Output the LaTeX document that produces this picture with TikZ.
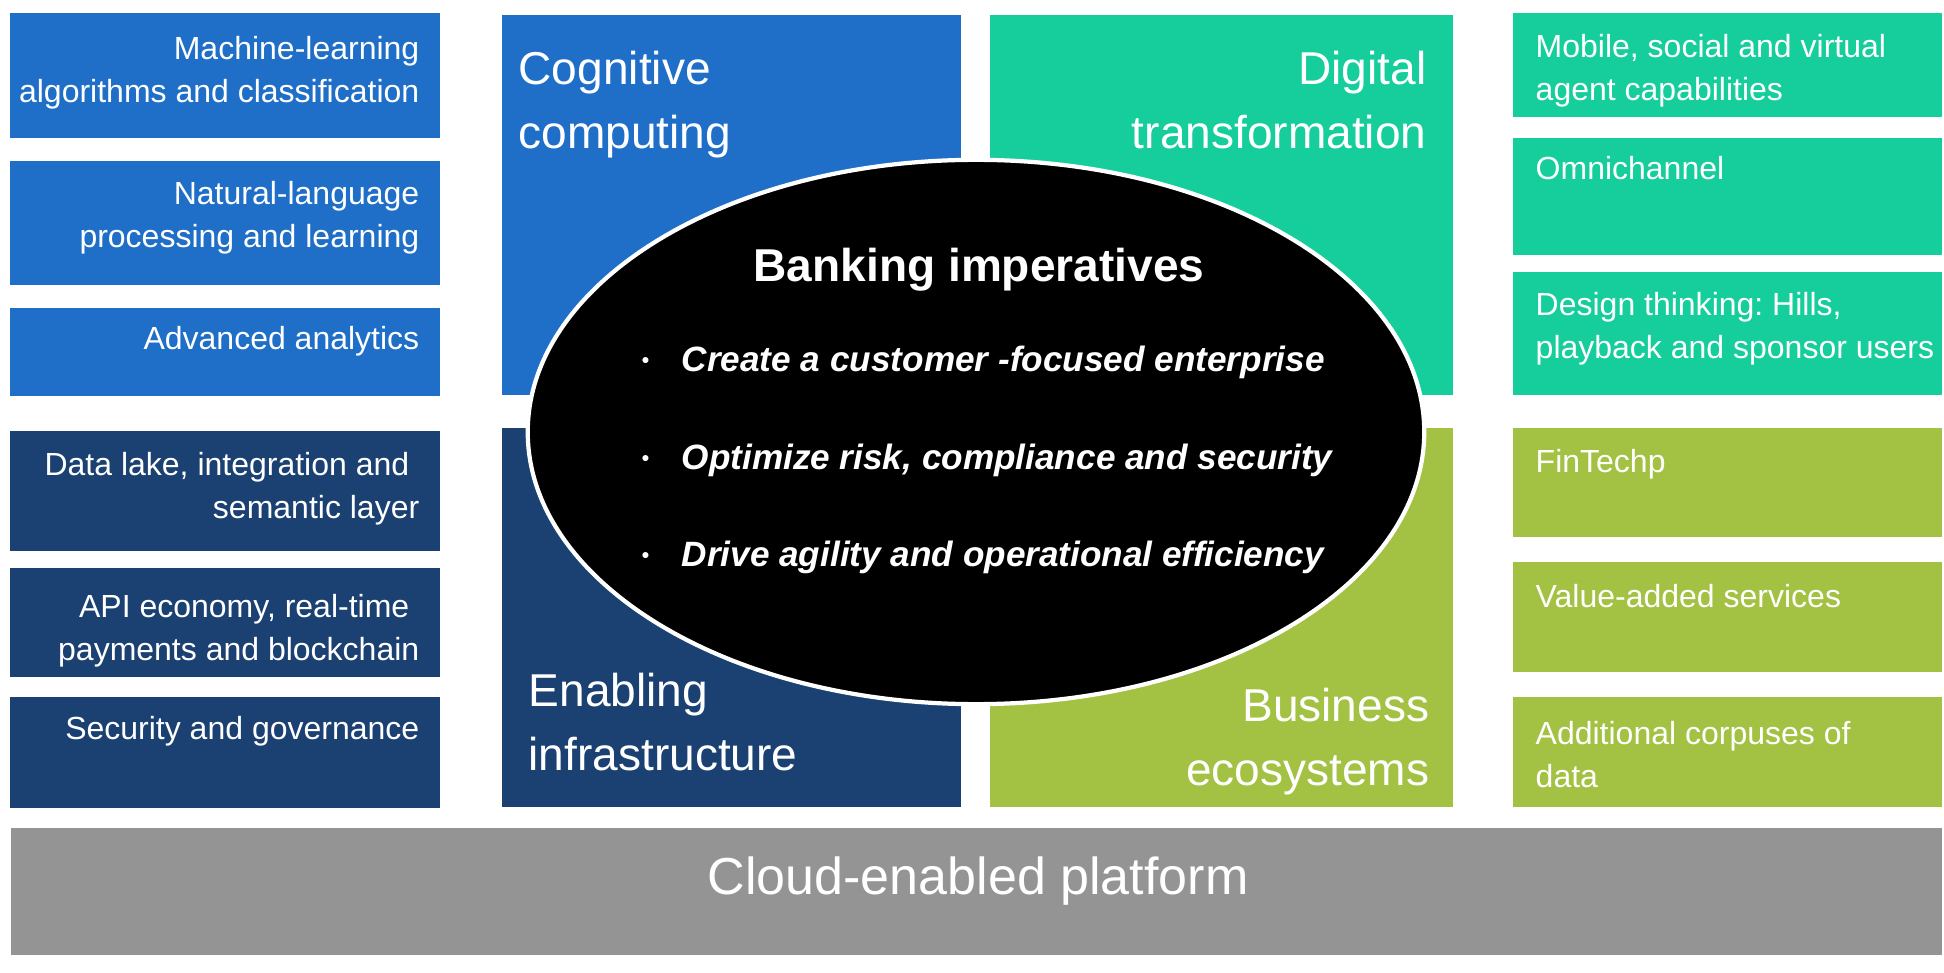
\documentclass[tikz,border=0pt]{standalone}
\usepackage{fontspec}
\setmainfont{Liberation Sans}
\usepackage{tikz}
\usetikzlibrary{shapes.geometric}
\usepackage{xcolor}

\definecolor{cogblue}{RGB}{31,110,199}
\definecolor{infranavy}{RGB}{27,64,114}
\definecolor{digiteal}{RGB}{22,205,156}
\definecolor{ecogreen}{RGB}{163,193,66}
\definecolor{cloudgray}{RGB}{148,148,148}

\tikzset{
    itemtext/.style={text=white, inner sep=0pt, font=\fontsize{9.1}{12.2}\selectfont},
    pillartext/.style={text=white, inner sep=0pt, font=\fontsize{13.1}{18.3}\selectfont},
    goaltext/.style={text=white, inner sep=0pt, anchor=base west,
        font=\fontsize{10}{12}\selectfont\bfseries\itshape},
}

\newcommand{\goalbullet}{\makebox[0.4cm][l]{\raisebox{1.2pt}{\fontsize{6}{6}\selectfont\textbullet}}}
\newcommand{\trailsp}{\hspace{0.1cm}\null}

\frenchspacing

\begin{document}
\begin{tikzpicture}[x=0.01cm, y=-0.01cm]
        \useasboundingbox (0, 0) rectangle (1944, 973);
        \fill[white] (0, 0) rectangle (1944, 973);

        % Left column
        \fill[cogblue] (10, 13) rectangle (440, 138);
        \fill[cogblue] (10, 161) rectangle (440, 285);
        \fill[cogblue] (10, 308) rectangle (440, 396);
        \fill[infranavy] (10, 431) rectangle (440, 551);
        \fill[infranavy] (10, 568) rectangle (440, 677);
        \fill[infranavy] (10, 697) rectangle (440, 808);
        \node[itemtext, align=right, anchor=north east] (mlearn) at (420, 36) {Machine-learning\\algorithms and classification};
        \node[itemtext, align=right, anchor=north east] (nlp) at (420, 181) {Natural-language\\processing and learning};
        \node[itemtext, align=right, anchor=north east] (analytics) at (420, 326) {Advanced analytics};
        \node[itemtext, align=right, anchor=north east] (datalake) at (420, 452) {Data lake, integration and\trailsp\\semantic layer};
        \node[itemtext, align=right, anchor=north east] (api) at (420, 594) {API economy, real-time\trailsp\\payments and blockchain};
        \node[itemtext, align=right, anchor=north east] (secgov) at (420, 716) {Security and governance};

        % Four pillars
        \fill[cogblue] (502, 15) rectangle (961, 395);
        \fill[digiteal] (990, 15) rectangle (1453, 395);
        \fill[infranavy] (502, 428) rectangle (961, 807);
        \fill[ecogreen] (990, 428) rectangle (1453, 807);
        \node[pillartext, align=left, anchor=north west] (cognitive) at (518, 50) {Cognitive\\computing};
        \node[pillartext, align=right, anchor=north east] (digital) at (1427, 50) {Digital\\transformation};
        \node[pillartext, align=left, anchor=north west] (enabling) at (528, 672) {Enabling\\infrastructure};
        \node[pillartext, align=right, anchor=north east] (business) at (1430, 687) {Business\\ecosystems};

        % Banking imperatives
        \node[ellipse, fill=black, draw=white, line width=1.2pt, inner sep=0pt,
            minimum width=8.96cm, minimum height=5.44cm] (core) at (976, 432) {};
        \node[text=white, inner sep=0pt, anchor=base, font=\fontsize{13.1}{15}\selectfont\bfseries] (imptitle) at (979, 282) {Banking imperatives};
        \node[goaltext] (goal1) at (641, 372) {\goalbullet Create a customer -focused enterprise};
        \node[goaltext] (goal2) at (641, 470) {\goalbullet Optimize risk, compliance and security};
        \node[goaltext] (goal3) at (641, 567) {\goalbullet Drive agility and operational efficiency};

        % Right column
        \fill[digiteal] (1513, 13) rectangle (1942, 117);
        \fill[digiteal] (1513, 138) rectangle (1942, 255);
        \fill[digiteal] (1513, 272) rectangle (1942, 395);
        \fill[ecogreen] (1513, 428) rectangle (1942, 537);
        \fill[ecogreen] (1513, 562) rectangle (1942, 672);
        \fill[ecogreen] (1513, 697) rectangle (1942, 807);
        \node[itemtext, align=left, anchor=north west] (mobile) at (1535, 34) {Mobile, social and virtual\\agent capabilities};
        \node[itemtext, align=left, anchor=north west] (omni) at (1535, 156) {Omnichannel};
        \node[itemtext, align=left, anchor=north west] (design) at (1535, 292) {Design thinking: Hills,\\playback and sponsor users};
        \node[itemtext, align=left, anchor=north west] (fintech) at (1535, 449) {FinTechp};
        \node[itemtext, align=left, anchor=north west] (valadd) at (1535, 584) {Value-added services};
        \node[itemtext, align=left, anchor=north west] (corpus) at (1535, 721) {Additional corpuses of\\data};

        % Platform bar
        \fill[cloudgray] (11, 828) rectangle (1942, 955);
        \node[text=white, inner sep=0pt, anchor=base, font=\fontsize{14.8}{16}\selectfont] (cloud) at (978, 894) {Cloud-enabled platform};

    \end{tikzpicture}
\end{document}
